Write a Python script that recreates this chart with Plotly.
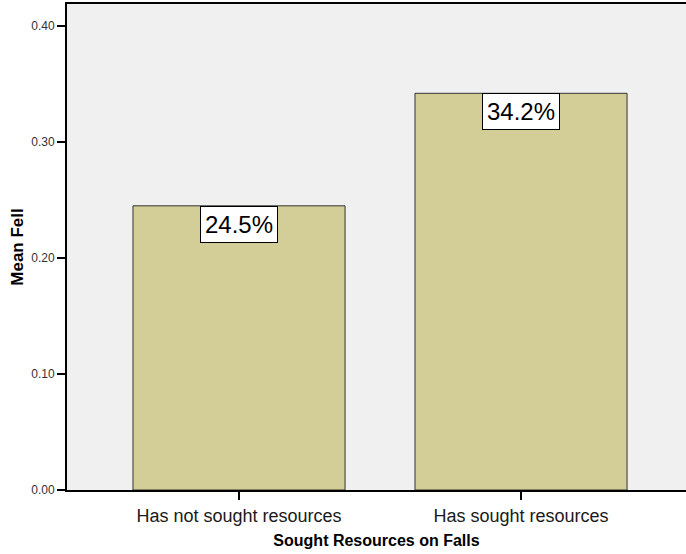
import plotly.graph_objects as go

categories = ["Has not sought resources", "Has sought resources"]
mean_fell = [0.245, 0.342]
labels = ["24.5%", "34.2%"]
y_ticks = [0.0, 0.1, 0.2, 0.3, 0.4]
y_tick_text = ["0.00", "0.10", "0.20", "0.30", "0.40"]

fig = go.Figure()
fig.add_trace(go.Bar(
    x=categories, y=mean_fell,
    marker=dict(color="#D3CE97", line=dict(color="#333333", width=1)),
    width=0.752,
    hoverinfo="skip",
))

for c, v, t in zip(categories, mean_fell, labels):
    fig.add_annotation(
        x=c, y=v, text=t, showarrow=False, yanchor="top", xanchor="center",
        font=dict(family="Arial, Liberation Sans, sans-serif", size=24, color="black"),
        bgcolor="white", bordercolor="black", borderwidth=1, borderpad=4,
    )

fig.update_layout(
    width=686, height=554,
    margin=dict(l=67, r=0, t=4, b=64),
    paper_bgcolor="white", plot_bgcolor="#F0F0F0",
    showlegend=False,
    font=dict(family="Arial, Liberation Sans, sans-serif", color="black"),
    xaxis=dict(
        type="category", range=[-0.61, 1.585],
        showline=True, linecolor="black", linewidth=2, mirror=True,
        ticks="outside", ticklen=8, tickwidth=1.5, tickcolor="black",
        tickfont=dict(size=18, color="#1a1a1a"),
        showgrid=False, zeroline=False,
        title=dict(text="<b>Sought Resources on Falls</b>", font=dict(size=16), standoff=10),
    ),
    yaxis=dict(
        range=[0, 0.419],
        tickvals=y_ticks, ticktext=y_tick_text,
        showline=True, linecolor="black", linewidth=2,
        ticks="outside", ticklen=8, tickwidth=2, tickcolor="black",
        tickfont=dict(size=12, color="#333333"),
        showgrid=False, zeroline=False,
        title=dict(text="<b>Mean Fell</b>", font=dict(size=17), standoff=3),
    ),
)

fig.write_html("out.html")
